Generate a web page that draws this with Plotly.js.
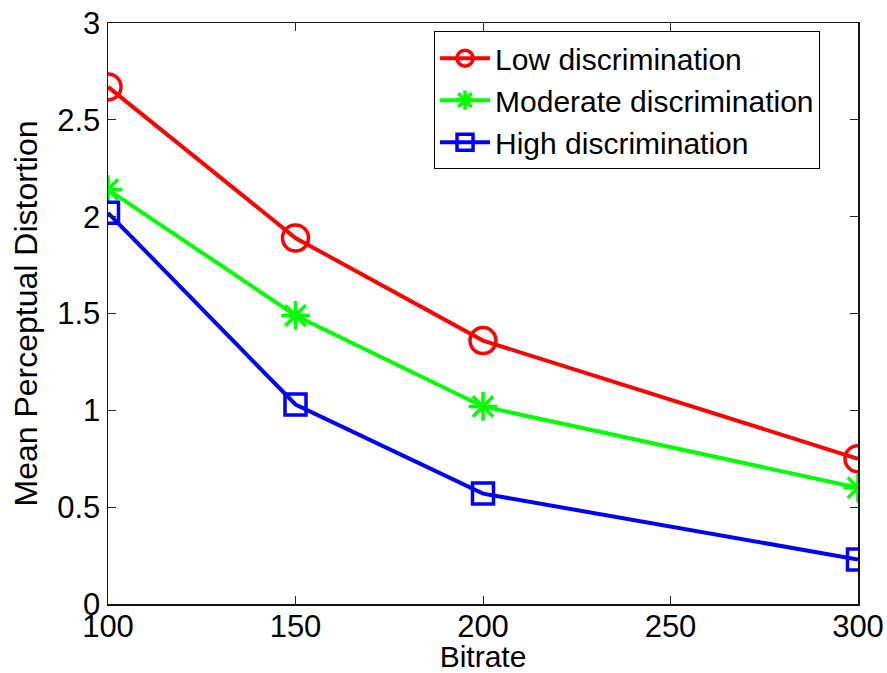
<!DOCTYPE html>
<html>
<head>
<meta charset="utf-8">
<script src="https://cdn.plot.ly/plotly-3.0.1.min.js"></script>
<style>html,body{margin:0;padding:0;background:#fff;}#chart{width:887px;height:673px;}</style>
</head>
<body>
<div id="chart"></div>
<script>
const bitrate = [100, 150, 200, 300];
const lowDisc = [2.67, 1.89, 1.36, 0.75];
const moderateDisc = [2.14, 1.49, 1.02, 0.60];
const highDisc = [2.02, 1.03, 0.57, 0.23];
const seriesNames = ["Low discrimination", "Moderate discrimination", "High discrimination"];
const xTicks = [100, 150, 200, 250, 300];
const yTicks = [0, 0.5, 1, 1.5, 2, 2.5, 3];
const yTickText = ["0", "0.5", "1", "1.5", "2", "2.5", "3"];

const fam = "Liberation Sans, Arial, sans-serif";

const traces = [
  {x: bitrate, y: lowDisc, name: seriesNames[0], mode: "lines+markers",
   line: {color: "#ff0000", width: 4},
   marker: {symbol: "circle-open", size: 26, color: "#ff0000", line: {width: 3.5, color: "#ff0000"}}},
  {x: bitrate, y: moderateDisc, name: seriesNames[1], mode: "lines+markers",
   line: {color: "#00ff00", width: 4},
   marker: {symbol: "asterisk-open", size: 24, color: "#00ff00", line: {width: 3.5, color: "#00ff00"}}},
  {x: bitrate, y: highDisc, name: seriesNames[2], mode: "lines+markers",
   line: {color: "#0000ff", width: 4},
   marker: {symbol: "square-open", size: 21, color: "#0000ff", line: {width: 3.5, color: "#0000ff"}}}
];

const layout = {
  width: 887, height: 673,
  margin: {l: 108, r: 29, t: 23, b: 69},
  paper_bgcolor: "#fff", plot_bgcolor: "#fff",
  font: {family: fam, size: 31, color: "#000"},
  showlegend: true,
  legend: {
    x: 0.4347, y: 0.986, xanchor: "left", yanchor: "top",
    bgcolor: "#fff", bordercolor: "#000", borderwidth: 1,
    font: {family: fam, size: 30, color: "#000"},
    tracegroupgap: 0, itemwidth: 50
  },
  xaxis: {
    range: [100, 300], tickvals: xTicks, ticktext: xTicks.map(String),
    ticks: "inside", ticklen: 8, tickcolor: "#222", tickwidth: 1,
    showline: true, linecolor: "#111", linewidth: 1.5, mirror: "ticks",
    showgrid: false, zeroline: false,
    ticklabelstandoff: -6,
    tickfont: {family: fam, size: 31, color: "#000"},
    title: {text: "Bitrate", font: {family: fam, size: 30, color: "#000"}, standoff: 5},
    automargin: false
  },
  yaxis: {
    range: [0, 3], tickvals: yTicks, ticktext: yTickText,
    ticks: "inside", ticklen: 8, tickcolor: "#222", tickwidth: 1,
    showline: true, linecolor: "#111", linewidth: 1.5, mirror: "ticks",
    showgrid: false, zeroline: false,
    tickfont: {family: fam, size: 31, color: "#000"},
    title: {text: "Mean Perceptual Distortion", font: {family: fam, size: 32, color: "#000"}, standoff: 10},
    automargin: false
  }
};

Plotly.newPlot("chart", traces, layout, {displayModeBar: false, staticPlot: true});
</script>
</body>
</html>
